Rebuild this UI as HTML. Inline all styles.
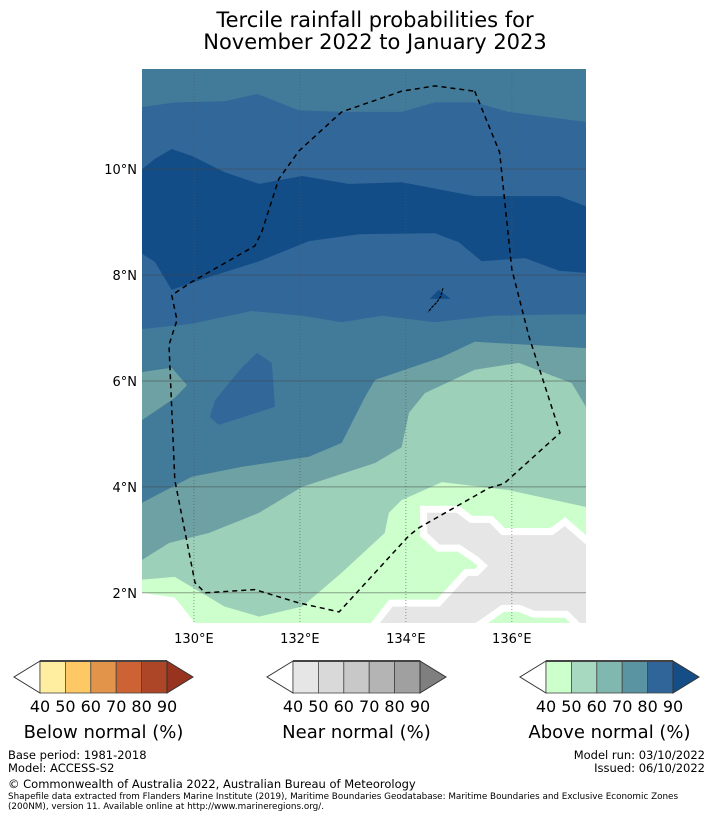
<!DOCTYPE html>
<html><head><meta charset="utf-8">
<style>
html,body{margin:0;padding:0;background:#fff;}
body{width:713px;height:816px;overflow:hidden;font-family:"DejaVu Sans","Liberation Sans",sans-serif;}
svg text{font-family:"DejaVu Sans","Liberation Sans",sans-serif;}
</style></head>
<body>
<svg id="chart" width="713" height="816" viewBox="0 0 713 816" xmlns="http://www.w3.org/2000/svg">
  <text x="375" y="27" font-size="21" text-anchor="middle" fill="#000">Tercile rainfall probabilities for</text>
  <text x="375" y="49" font-size="21" text-anchor="middle" fill="#000">November 2022 to January 2023</text>
  <defs><clipPath id="mapclip"><rect x="142" y="69" width="444" height="554"/></clipPath></defs>
  <g id="map" clip-path="url(#mapclip)"></g>
  <g id="axes"></g>
  <g id="bars"></g>
  <text x="8" y="759" font-size="11.5">Base period: 1981-2018</text>
  <text x="8" y="772" font-size="11.5">Model: ACCESS-S2</text>
  <text x="705" y="759" font-size="11.5" text-anchor="end">Model run: 03/10/2022</text>
  <text x="705" y="772" font-size="11.5" text-anchor="end">Issued: 06/10/2022</text>
  <text x="8" y="788" font-size="11.5">© Commonwealth of Australia 2022, Australian Bureau of Meteorology</text>
  <text x="8" y="799" font-size="8.8">Shapefile data extracted from Flanders Marine Institute (2019), Maritime Boundaries Geodatabase: Maritime Boundaries and Exclusive Economic Zones</text>
  <text x="8" y="809" font-size="8.8">(200NM), version 11. Available online at http://www.marineregions.org/.</text>
</svg>
<script>
// axis data
const lonTicks = [130, 132, 134, 136];
const latTicks = [2, 4, 6, 8, 10];
const lonLabels = ["130°E", "132°E", "134°E", "136°E"];
const latLabels = ["2°N", "4°N", "6°N", "8°N", "10°N"];
const lonRange = [129.02, 137.40];
const latRange = [1.43, 11.89];
// contour boundaries [lon, lat]
const bA = [[129.02,11.17],[129.64,11.26],[130.58,11.28],[131.19,11.42],[131.98,11.11],[132.79,11.08],[133.92,11.08],[134.55,11.26],[135.30,11.26],[135.94,11.08],[137.40,10.89]];
const bB = [[129.02,10.00],[129.26,10.19],[129.58,10.38],[129.96,10.25],[130.58,9.94],[131.23,9.72],[132.04,9.87],[132.92,9.72],[133.92,9.75],[135.30,9.49],[136.89,9.49],[137.40,9.30]];
const bC = [[129.02,8.40],[129.26,8.25],[129.58,7.72],[130.28,7.96],[131.23,8.26],[132.17,8.64],[133.11,8.77],[134.55,8.79],[135.00,8.62],[135.43,8.26],[136.25,8.32],[136.89,8.08],[137.40,8.04]];
const bD = [[129.02,6.98],[129.96,7.08],[131.09,7.32],[132.04,7.23],[132.79,7.11],[133.55,7.23],[134.55,7.11],[135.62,7.23],[136.57,7.25],[137.40,7.26]];
const patch80 = [[131.19,6.53],[131.47,6.34],[131.53,5.51],[130.47,5.17],[130.30,5.32],[130.40,5.64],[130.91,6.26]];
const patch90 = [[134.45,7.55],[134.62,7.72],[134.85,7.55]];
const bE = [[137.40,6.62],[135.30,6.74],[134.68,6.45],[133.42,6.02],[133.23,5.70],[132.79,4.83],[132.17,4.57],[130.91,4.38],[129.96,4.19],[129.02,3.70]];
const pocket60 = [[129.02,6.17],[129.58,6.25],[129.87,5.92],[129.64,5.68],[129.02,5.26]];
const bF = [[137.40,5.51],[137.13,5.96],[136.13,6.34],[135.30,6.21],[134.36,5.77],[134.06,5.40],[133.92,4.75],[133.42,4.45],[132.04,4.00],[131.23,3.51],[130.28,3.13],[129.53,2.94],[129.02,2.62]];
const bG = [[137.40,3.62],[135.94,3.94],[134.68,4.09],[133.92,3.75],[133.68,3.51],[133.60,3.13],[132.79,2.38],[132.04,1.74],[131.23,1.55],[130.58,1.74],[129.64,2.30],[129.02,2.25]];
const white40 = [[129.02,2.00],[129.64,1.91],[130.02,1.43],[129.02,1.43]];
const grey40 = [[134.40,3.51],[134.96,3.51],[135.21,3.32],[135.58,3.32],[135.81,3.09],[136.77,3.09],[137.00,3.26],[137.40,2.91],[137.40,1.43],[133.51,1.43],[133.75,1.74],[134.64,1.74],[135.17,2.32],[135.36,2.32],[135.55,2.51],[135.36,2.68],[135.02,2.91],[134.64,2.91],[134.40,3.13]];
const greenPatch = [[135.55,1.43],[135.85,1.64],[136.13,1.64],[136.40,1.53],[137.00,1.53],[137.10,1.43]];
const eez = [[135.30,11.47],[135.77,10.32],[136.00,8.11],[136.32,6.85],[136.91,5.02],[135.85,4.06],[135.57,3.98],[134.25,3.23],[134.06,3.08],[132.74,1.64],[131.98,1.81],[131.15,2.06],[130.21,2.00],[130.02,2.19],[129.64,4.13],[129.53,6.68],[129.68,7.15],[129.58,7.62],[129.96,7.87],[131.15,8.55],[131.28,8.81],[131.60,9.81],[131.98,10.34],[132.79,11.08],[133.92,11.47],[134.55,11.57],[135.30,11.47]];
const island = [[134.70,7.75],[134.66,7.60],[134.58,7.48],[134.50,7.40],[134.42,7.30]];
// colorbars
const barLabels = ["40","50","60","70","80","90"];
const belowColors = ["#ffeda0","#fec965","#e2944a","#cd6234","#ad4626","#98331f"];
const nearColors = ["#e6e6e6","#d9d9d9","#c8c8c8","#b4b4b4","#a0a0a0","#7f7f7f"];
const aboveColors = ["#ccffcc","#a6d9bf","#80b7ae","#5a93a1","#30659a","#154e87"];
const barTitles = ["Below normal (%)","Near normal (%)","Above normal (%)"];

const NS = "http://www.w3.org/2000/svg";
const X0 = 142, X1 = 586, Y0 = 69, Y1 = 623;
function xs(lon){ return X0 + (lon - lonRange[0]) / (lonRange[1] - lonRange[0]) * (X1 - X0); }
function ys(lat){ return Y1 - (lat - latRange[0]) / (latRange[1] - latRange[0]) * (Y1 - Y0); }
function pts(a){ return a.map(p => xs(p[0]).toFixed(1) + "," + ys(p[1]).toFixed(1)).join(" "); }
function mk(tag, attrs, parent){ const e = document.createElementNS(NS, tag); for (const k in attrs) e.setAttribute(k, attrs[k]); parent.appendChild(e); return e; }
const map = document.getElementById("map");
function below(line, fill, name){
  const first = line[0][0] < line[line.length-1][0];
  const poly = first ? line.concat([[lonRange[1]+1, latRange[0]-1],[lonRange[0]-1, latRange[0]-1]]) : line.concat([[lonRange[0]-1, latRange[0]-1],[lonRange[1]+1, latRange[0]-1]]);
  const e = mk("polygon", {points: pts(poly), fill: fill}, map);
  
  
}
const bg = mk("rect", {x: X0, y: Y0, width: X1 - X0, height: Y1 - Y0, fill: "#427b99"}, map);


below(bA, "#32679a", "band-80-90-upper");
below(bB, "#134d87", "band-90-plus");
below(bC, "#32679a", "band-80-90-lower");
below(bD, "#427b99", "band-70-80");
below(bE, "#6ea1a3", "band-60-70");
below(bF, "#9dd0b9", "band-50-60");
below(bG, "#ccffcc", "band-40-50");
function shape(a, fill, name, stroke){
  const e = mk("polygon", {points: pts(a), fill: fill}, map);
  if (stroke) { e.setAttribute("stroke", "#fff"); e.setAttribute("stroke-width", "14"); e.setAttribute("paint-order", "stroke"); e.setAttribute("stroke-linejoin", "miter"); }
  
  
}
shape(patch80, "#32679a", "patch-80-90");
shape(patch90, "#134d87", "patch-90-island");
shape(pocket60, "#6ea1a3", "pocket-60-70");
shape(white40, "#ffffff", "below-40-area");
shape(grey40, "#e6e6e6", "near-normal-area", true);
shape(greenPatch, "#ccffcc", "green-patch", true);
// gridlines
lonTicks.forEach((t, i) => {
  const l = mk("line", {x1: xs(t), x2: xs(t), y1: Y0, y2: Y1, stroke: "#555", "stroke-width": 1, "stroke-dasharray": "1,2", opacity: 0.6}, map);
  
  
});
latTicks.forEach((t, i) => {
  const l = mk("line", {x1: X0, x2: X1, y1: ys(t), y2: ys(t), stroke: "#444", "stroke-width": 1, opacity: 0.5}, map);
  
  
});
const isl = mk("polyline", {points: pts(island), fill: "none", stroke: "#000", "stroke-width": 1.2, "stroke-dasharray": "3,1"}, map);


const ez = mk("polyline", {points: pts(eez), fill: "none", stroke: "#000", "stroke-width": 1.5, "stroke-dasharray": "5,4"}, map);


// tick labels
const axes = document.getElementById("axes");
lonTicks.forEach((t, i) => {
  const tx = mk("text", {x: xs(t), y: 643, "font-size": 13, "text-anchor": "middle"}, axes);
  tx.textContent = lonLabels[i];
  
  
});
latTicks.forEach((t, i) => {
  const tx = mk("text", {x: 137, y: ys(t) + 5, "font-size": 13, "text-anchor": "end"}, axes);
  tx.textContent = latLabels[i];
  
  
});
// colorbars
const bars = document.getElementById("bars");
const sets = [belowColors, nearColors, aboveColors];
const starts = [40, 293, 546];
sets.forEach((cols, k) => {
  const g = mk("g", {}, bars);
  
  
  const x0 = starts[k], w = 127, cw = w / 5, yt = 661, yb = 693, ym = 677;
  mk("polygon", {points: `${x0},${yt} ${x0-26},${ym} ${x0},${yb}`, fill: "#fff", stroke: "#333", "stroke-width": 1}, g);
  for (let i = 0; i < 5; i++) {
    const r = mk("rect", {x: x0 + i * cw, y: yt, width: cw, height: yb - yt, fill: cols[i], stroke: "#444", "stroke-width": 0.8}, g);
    
    
  }
  mk("polygon", {points: `${x0+w},${yt} ${x0+w+26},${ym} ${x0+w},${yb}`, fill: cols[5], stroke: "#333", "stroke-width": 1}, g);
  mk("line", {x1: x0, x2: x0 + w, y1: yt, y2: yt, stroke: "#444", "stroke-width": 2}, g);
  barLabels.forEach((lab, i) => {
    const t = mk("text", {x: x0 + i * cw, y: 712, "font-size": 16, "text-anchor": "middle"}, g);
    t.textContent = lab;
    
    
  });
  const tt = mk("text", {x: x0 + w / 2, y: 738, "font-size": 18, "text-anchor": "middle"}, g);
  tt.textContent = barTitles[k];
  
  
});
</script>
</body></html>
